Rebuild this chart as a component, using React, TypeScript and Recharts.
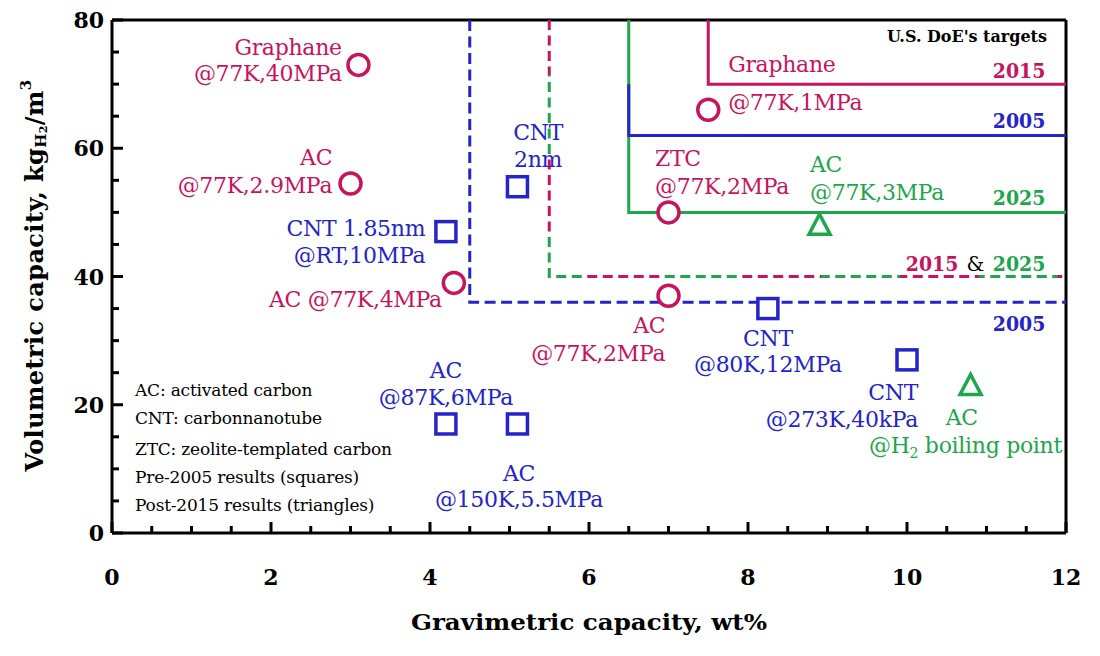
import React from "react";
import { ScatterChart, Scatter, XAxis, YAxis, ReferenceLine } from "recharts";

const CRIMSON = "#C8135E";
const BLUE = "#2424C8";
const GREEN = "#1EA64B";
const FONT = "DejaVu Serif, serif";
const ff = { fontFamily: FONT };
const ffCond = { fontFamily: "DejaVu Serif Condensed, DejaVu Serif, serif" };

// measured points (wt%, kg/m3)
const circlePoints = [
  { x: 3.1, y: 73 },
  { x: 3.0, y: 54.5 },
  { x: 4.3, y: 39 },
  { x: 7.5, y: 66 },
  { x: 7.0, y: 50 },
  { x: 7.0, y: 37 },
];

const squarePoints = [
  { x: 5.1, y: 54 },
  { x: 4.2, y: 47 },
  { x: 4.2, y: 17 },
  { x: 5.1, y: 17 },
  { x: 8.25, y: 35 },
  { x: 10, y: 27 },
];

const trianglePoints = [
  { x: 8.9, y: 48 },
  { x: 10.8, y: 23 },
];

// DoE target corners
const target2005Old = [
  { x: 4.5, y: 80 },
  { x: 4.5, y: 36 },
  { x: 12, y: 36 },
];
const target2015Old = [
  { x: 5.5, y: 80 },
  { x: 5.5, y: 40 },
  { x: 12, y: 40 },
];
const target2025 = [
  { x: 6.5, y: 80 },
  { x: 6.5, y: 50 },
  { x: 12, y: 50 },
];
const target2005 = [
  { x: 6.5, y: 70 },
  { x: 6.5, y: 62 },
  { x: 12, y: 62 },
];
const target2015 = [
  { x: 7.5, y: 80 },
  { x: 7.5, y: 70 },
  { x: 12, y: 70 },
];

const xTicks = [0, 0.5, 1, 1.5, 2, 2.5, 3, 3.5, 4, 4.5, 5, 5.5, 6, 6.5, 7, 7.5, 8, 8.5, 9, 9.5, 10, 10.5, 11, 11.5, 12];
const yTicks = [0, 5, 10, 15, 20, 25, 30, 35, 40, 45, 50, 55, 60, 65, 70, 75, 80];
const xLabelTicks = [0, 2, 4, 6, 8, 10, 12];
const yLabelTicks = [0, 20, 40, 60, 80];

// point annotations, one entry per text line
const pointNotes = [
  { x: 2.89, y: 74.6, text: "Graphane", c: "crimson", a: "end" },
  { x: 2.89, y: 70.5, text: "@77K,40MPa", c: "crimson", a: "end" },
  { x: 2.77, y: 57.4, text: "AC", c: "crimson", a: "end" },
  { x: 2.77, y: 53.0, text: "@77K,2.9MPa", c: "crimson", a: "end" },
  { x: 4.15, y: 35.3, text: "AC @77K,4MPa", c: "crimson", a: "end" },
  { x: 7.75, y: 71.9, text: "Graphane", c: "crimson", a: "start" },
  { x: 7.75, y: 66.0, text: "@77K,1MPa", c: "crimson", a: "start" },
  { x: 6.83, y: 57.3, text: "ZTC", c: "crimson", a: "start" },
  { x: 6.83, y: 52.9, text: "@77K,2MPa", c: "crimson", a: "start" },
  { x: 6.96, y: 31.2, text: "AC", c: "crimson", a: "end" },
  { x: 6.96, y: 26.8, text: "@77K,2MPa", c: "crimson", a: "end" },
  { x: 3.94, y: 46.3, text: "CNT 1.85nm", c: "blue", a: "end" },
  { x: 3.94, y: 42.1, text: "@RT,10MPa", c: "blue", a: "end" },
  { x: 5.36, y: 61.3, text: "CNT", c: "blue", a: "middle" },
  { x: 5.36, y: 57.1, text: "2nm", c: "blue", a: "middle" },
  { x: 8.25, y: 29.2, text: "CNT", c: "blue", a: "middle" },
  { x: 8.25, y: 25.1, text: "@80K,12MPa", c: "blue", a: "middle" },
  { x: 10.14, y: 20.7, text: "CNT", c: "blue", a: "end" },
  { x: 10.14, y: 16.5, text: "@273K,40kPa", c: "blue", a: "end" },
  { x: 4.2, y: 24.2, text: "AC", c: "blue", a: "middle" },
  { x: 4.2, y: 20.0, text: "@87K,6MPa", c: "blue", a: "middle" },
  { x: 5.12, y: 8.1, text: "AC", c: "blue", a: "middle" },
  { x: 5.12, y: 4.1, text: "@150K,5.5MPa", c: "blue", a: "middle" },
  { x: 8.78, y: 56.3, text: "AC", c: "green", a: "start" },
  { x: 8.78, y: 52.0, text: "@77K,3MPa", c: "green", a: "start" },
  { x: 10.69, y: 16.8, text: "AC", c: "green", a: "middle" },
  { x: 11.95, y: 12.5, text: "@H|2| boiling point", c: "green", a: "end" },
];

// target year tags on the right
const yearNotes = [
  { x: 11.74, y: 71.0, parts: [["2015", "crimson"]] },
  { x: 11.74, y: 63.2, parts: [["2005", "blue"]] },
  { x: 11.74, y: 51.2, parts: [["2025", "green"]] },
  { x: 11.74, y: 40.9, parts: [["2015", "crimson"], ["&", "black"], ["2025", "green"]] },
  { x: 11.74, y: 31.5, parts: [["2005", "blue"]] },
];
const titleNote = [{ x: 11.76, y: 76.6, text: "U.S. DoE's targets" }];

const glossary = [
  { x: 0.29, y: 21.4, text: "AC: activated carbon" },
  { x: 0.29, y: 17.0, text: "CNT: carbonnanotube" },
  { x: 0.29, y: 12.2, text: "ZTC: zeolite-templated carbon" },
  { x: 0.29, y: 7.8, text: "Pre-2005 results (squares)" },
  { x: 0.29, y: 3.4, text: "Post-2015 results (triangles)" },
];

const colorOf: Record<string, string> = { crimson: CRIMSON, blue: BLUE, green: GREEN, black: "#000" };

const XTick = (props: any) => {
  const { x, y, payload } = props;
  const v = payload.value;
  const major = xLabelTicks.includes(v);
  return (
    <g>
      <line x1={x} y1={y} x2={x} y2={y - (major ? 11 : 7)} stroke="#000" strokeWidth={3} />
      {major && (
        <text x={x} y={y + 52} textAnchor="middle" style={ff} fontWeight="bold" fontSize={22} fill="#000">
          {v}
        </text>
      )}
    </g>
  );
};

const YTick = (props: any) => {
  const { x, y, payload } = props;
  const v = payload.value;
  const major = yLabelTicks.includes(v);
  return (
    <g>
      <line x1={x} y1={y} x2={x + (major ? 11 : 7)} y2={y} stroke="#000" strokeWidth={3} />
      {major && (
        <text x={x - 8} y={y + 8} textAnchor="end" style={ff} fontWeight="bold" fontSize={22} fill="#000">
          {v}
        </text>
      )}
    </g>
  );
};

const CircleShape = (props: any) => (
  <circle cx={props.cx} cy={props.cy} r={10.5} fill="#fff" stroke={CRIMSON} strokeWidth={3.5} />
);
const SquareShape = (props: any) => (
  <rect x={props.cx - 10} y={props.cy - 10} width={20} height={20} fill="#fff" stroke={BLUE} strokeWidth={3.5} />
);
const TriangleShape = (props: any) => (
  <polygon
    points={`${props.cx},${props.cy - 11} ${props.cx + 10.5},${props.cy + 9} ${props.cx - 10.5},${props.cy + 9}`}
    fill="#fff"
    stroke={GREEN}
    strokeWidth={3.5}
  />
);
const NoShape = () => <g />;

const PointNote = (props: any) => {
  const { cx, cy, payload } = props;
  const segs = String(payload.text).split("|");
  return (
    <text x={cx} y={cy} textAnchor={payload.a} style={ff} fontSize={22} letterSpacing={-0.3} fill={colorOf[payload.c]}>
      {segs.length === 1
        ? payload.text
        : [
            <tspan key="a">{segs[0]}</tspan>,
            <tspan key="b" fontSize={14} dy={5}>{segs[1]}</tspan>,
            <tspan key="c" dy={-5}>{segs[2]}</tspan>,
          ]}
    </text>
  );
};

// year tags: pieces laid out leftwards from the right edge
const YearNote = (props: any) => {
  const { cx, cy, payload } = props;
  let right = cx;
  const items: React.ReactNode[] = [];
  [...payload.parts].reverse().forEach((p: string[], i: number) => {
    const black = p[1] === "black";
    items.push(
      <text
        key={i}
        x={right}
        y={cy}
        textAnchor="end"
        style={black ? ff : ffCond}
        fontWeight={black ? "normal" : "bold"}
        fontSize={black ? 20 : 21}
        fill={colorOf[p[1]]}
      >
        {p[0]}
      </text>
    );
    right -= black ? 26 : 61;
  });
  return <g>{items}</g>;
};

const TitleNote = (props: any) => (
  <text
    x={props.cx}
    y={props.cy}
    textAnchor="end"
    style={ff}
    fontWeight="bold"
    fontSize={16}
    textLength={160}
    lengthAdjust="spacingAndGlyphs"
    fill="#000"
  >
    {props.payload.text}
  </text>
);

const GlossNote = (props: any) => (
  <text x={props.cx} y={props.cy} textAnchor="start" style={ff} fontSize={17} letterSpacing={-0.2} fill="#000">
    {props.payload.text}
  </text>
);

const XTitle = (props: any) => {
  const vb = props.viewBox;
  return (
    <g>
      {/* checkerboard paint: alternates crimson / green blocks along the shared 2015 & 2025 dashed target */}
      <defs>
        <pattern id="mixTarget" patternUnits="userSpaceOnUse" x={585} y={75} width={157.5} height={157.5}>
          <rect x={0} y={0} width={78.75} height={78.75} fill={CRIMSON} />
          <rect x={78.75} y={0} width={78.75} height={78.75} fill={GREEN} />
          <rect x={0} y={78.75} width={78.75} height={78.75} fill={GREEN} />
          <rect x={78.75} y={78.75} width={78.75} height={78.75} fill={CRIMSON} />
        </pattern>
      </defs>
      <text
        x={vb.x + vb.width / 2}
        y={vb.y + 97}
        textAnchor="middle"
        style={ff}
        fontWeight="bold"
        fontSize={23}
        textLength={356}
        lengthAdjust="spacingAndGlyphs"
        fill="#000"
      >
        Gravimetric capacity,  wt%
      </text>
    </g>
  );
};

const YTitle = (props: any) => {
  const vb = props.viewBox;
  const cx = 36;
  const cy = vb.y + vb.height / 2 - 1;
  return (
    <text
      x={cx}
      y={cy}
      transform={`rotate(-90 ${cx} ${cy})`}
      textAnchor="middle"
      dominantBaseline="middle"
      style={ff}
      fontWeight="bold"
      fontSize={24}
      letterSpacing={0.4}
      fill="#000"
    >
      <tspan>Volumetric capacity,  kg</tspan>
      <tspan fontSize={15} dy={6}>H</tspan>
      <tspan fontSize={11} dy={2}>2</tspan>
      <tspan dy={-8}>/m</tspan>
      <tspan fontSize={15} dy={-9}>3</tspan>
    </text>
  );
};

const lineStyle = (stroke: string, dash?: string) => ({
  stroke,
  strokeWidth: 3,
  strokeDasharray: dash,
});

export default function App() {
  return (
    <div style={{ position: "absolute", left: 0, top: 0, background: "#fff" }}>
      <ScatterChart width={1100} height={656} margin={{ top: 20, right: 34, left: 0, bottom: 0 }}>
        <XAxis
          type="number"
          dataKey="x"
          domain={[0, 12]}
          ticks={xTicks}
          interval={0}
          tickSize={0}
          tickMargin={0}
          height={123}
          axisLine={{ stroke: "#000", strokeWidth: 3 }}
          tickLine={false}
          tick={<XTick />}
          allowDataOverflow
          label={{ content: <XTitle /> }}
        />
        <YAxis
          type="number"
          dataKey="y"
          domain={[0, 80]}
          ticks={yTicks}
          interval={0}
          tickSize={0}
          tickMargin={0}
          width={112}
          axisLine={{ stroke: "#000", strokeWidth: 3 }}
          tickLine={false}
          tick={<YTick />}
          allowDataOverflow
          label={{ content: <YTitle /> }}
        />
        <ReferenceLine y={80} stroke="#000" strokeWidth={3} />
        <ReferenceLine x={12} stroke="#000" strokeWidth={3} />

        <Scatter data={target2005Old} line={lineStyle(BLUE, "11 5.5")} lineType="joint" shape={<NoShape />} isAnimationActive={false} />
        <Scatter data={target2015Old} line={lineStyle("url(#mixTarget)", "10 5.5")} lineType="joint" shape={<NoShape />} isAnimationActive={false} />
        <Scatter data={target2025} line={lineStyle(GREEN)} lineType="joint" shape={<NoShape />} isAnimationActive={false} />
        <Scatter data={target2005} line={lineStyle(BLUE)} lineType="joint" shape={<NoShape />} isAnimationActive={false} />
        <Scatter data={target2015} line={lineStyle(CRIMSON)} lineType="joint" shape={<NoShape />} isAnimationActive={false} />

        <Scatter data={circlePoints} shape={<CircleShape />} isAnimationActive={false} />
        <Scatter data={squarePoints} shape={<SquareShape />} isAnimationActive={false} />
        <Scatter data={trianglePoints} shape={<TriangleShape />} isAnimationActive={false} />

        <Scatter data={pointNotes} shape={<PointNote />} isAnimationActive={false} />
        <Scatter data={yearNotes} shape={<YearNote />} isAnimationActive={false} />
        <Scatter data={titleNote} shape={<TitleNote />} isAnimationActive={false} />
        <Scatter data={glossary} shape={<GlossNote />} isAnimationActive={false} />
      </ScatterChart>
    </div>
  );
}
